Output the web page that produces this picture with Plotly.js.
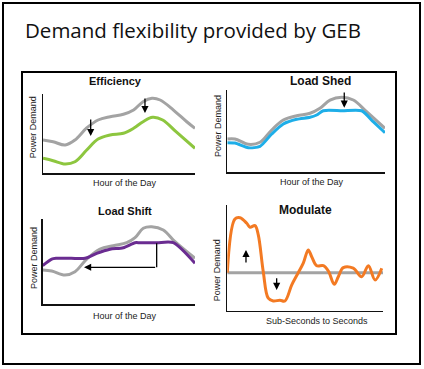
<!DOCTYPE html>
<html>
<head>
<meta charset="utf-8">
<script src="https://cdn.plot.ly/plotly-3.0.1.min.js"></script>
<style>html,body{margin:0;padding:0;background:#fff;}#chart{width:424px;height:369px;}</style>
</head>
<body>
<div id="chart"></div>
<script>
// ---- Data ----
const titleText = "Demand flexibility provided by GEB";
const panelTitles = ["Efficiency", "Load Shed", "Load Shift", "Modulate"];
const xLabels = ["Hour of the Day", "Hour of the Day", "Hour of the Day", "Sub-Seconds to Seconds"];
const yLabel = "Power Demand";

// Efficiency
const effHours = [0, 1.6, 3.5, 5.05, 6.9, 8.7, 10.6, 12.7, 14.3, 15.8, 17.2, 18.5, 20.6, 22.7, 24];
const effBaseline = [4.18, 3.96, 3.54, 4.18, 5.70, 6.71, 7.13, 7.43, 7.97, 9.03, 9.46, 9.24, 7.97, 6.49, 5.66];
const effHours2 = [0, 1.6, 3.5, 5.05, 6.9, 8.7, 10.6, 12.7, 14.3, 15.8, 17.3, 18.9, 21.0, 24];
const effReduced = [1.86, 1.56, 1.14, 1.43, 2.91, 4.30, 4.81, 5.03, 5.66, 6.49, 7.05, 6.71, 5.23, 3.13];
const effArrowX = [7.53, 16.1];
const effArrowTail = [6.96, 9.62];
const effArrowHead = [4.68, 7.59];

// Load Shed
const shedHours = [0, 1.17, 3.2, 4.98, 6.76, 8.52, 10.56, 12.59, 14.1, 15.63, 17.41, 19.18, 21.2, 24];
const shedBaseline = [4.05, 4.05, 3.40, 3.65, 5.14, 6.35, 6.88, 7.17, 7.78, 8.78, 9.11, 8.78, 7.36, 5.35];
const shedHours2 = [0, 1.17, 3.2, 4.98, 6.76, 8.52, 10.56, 12.59, 13.6, 14.6, 17.5, 20.45, 22.2, 24];
const shedReduced = [3.60, 3.55, 2.99, 3.16, 4.65, 5.87, 6.44, 6.68, 6.96, 7.48, 7.48, 7.48, 6.15, 4.81];
const shedArrowX = [17.8];
const shedArrowTail = [9.88];
const shedArrowHead = [7.85];

// Load Shift
const shiftHours = [0, 1.42, 3.51, 5.09, 6.93, 9.03, 11.13, 13.24, 14.55, 15.85, 17.18, 19.0, 20.85, 24];
const shiftBaseline = [4.0, 3.88, 3.41, 3.80, 5.29, 6.47, 6.86, 7.21, 7.80, 8.91, 9.09, 8.71, 7.33, 5.38];
const shiftHours2 = [0, 1.42, 2.1, 4.5, 6.67, 8.51, 10.6, 12.7, 14.55, 15.3, 18.0, 20.58, 24];
const shiftShifted = [4.51, 5.29, 5.38, 5.38, 5.38, 5.96, 6.44, 6.62, 7.21, 7.21, 7.21, 7.21, 4.79];
const shiftArrowX = [17.96, 17.96];
const shiftArrowY = [7.14, 4.32];
const shiftArrowHeadX = [6.51];

// Modulate
const modTime = [0, 0.49, 0.82, 1.25, 1.46, 1.78, 1.99, 2.31, 2.63, 2.95, 3.38, 3.70, 4.14, 4.56, 4.88, 5.20, 5.42, 5.74, 6.17, 6.49, 6.87, 7.13, 7.45, 8.09, 8.63, 9.06, 9.49, 9.92];
const modDemand = [0, 5.08, 5.20, 4.67, 4.30, 4.45, 3.57, 0.09, -2.42, -2.68, -2.61, -2.68, -1.16, 0, 0.89, 2.15, 1.51, 0.66, 0.66, 0.16, -1.10, -0.38, 0.47, 0.42, -0.38, 0.66, -0.69, 0.42];
const modBaseTime = [0, 10];
const modBaseline = [0, 0];
const modArrowX = [1.2, 3.17];
const modArrowTail = [0.82, -0.38];
const modArrowHead = [2.15, -1.64];

// ---- Styles ----
const GRAY = "#a3a3a3", GREEN = "#8dc63f", BLUE = "#1eaee8", PURPLE = "#6a2c91", ORANGE = "#f37a23";
const W = 424, H = 369;
const px = v => v / W;
const py = v => 1 - v / H;

function line(x, y, color, xa, ya, width, shape, smoothing) {
  return {x: x, y: y, xaxis: xa, yaxis: ya, type: "scatter", mode: "lines",
    line: {color: color, width: width || 3, shape: shape || "spline", smoothing: smoothing || 1},
    hoverinfo: "skip", showlegend: false};
}

const traces = [
  line(effHours, effBaseline, GRAY, "x", "y"),
  line(effHours2, effReduced, GREEN, "x", "y"),
  line(shedHours, shedBaseline, GRAY, "x2", "y2"),
  line(shedHours2, shedReduced, BLUE, "x2", "y2", 3, "spline", 0.7),
  line(shiftHours, shiftBaseline, GRAY, "x3", "y3"),
  line(shiftHours2, shiftShifted, PURPLE, "x3", "y3", 3, "spline", 0.7),
  line(shiftArrowX, shiftArrowY, "#000", "x3", "y3", 1.3, "linear"),
  line(modBaseTime, modBaseline, GRAY, "x4", "y4", 3, "linear"),
  line(modTime, modDemand, ORANGE, "x4", "y4")
];

function axis(domain, range) {
  return {domain: domain, range: range, showline: true, linecolor: "#111", linewidth: 1.5,
    showgrid: false, zeroline: false, showticklabels: false, ticks: "", fixedrange: true};
}

const layout = {
  width: W, height: H,
  margin: {l: 0, r: 0, t: 0, b: 0},
  paper_bgcolor: "#fff", plot_bgcolor: "rgba(0,0,0,0)",
  showlegend: false,
  xaxis: Object.assign(axis([px(43), px(195)], [0, 24]), {anchor: "y"}),
  yaxis: Object.assign(axis([py(173), py(94)], [0, 10]), {anchor: "x"}),
  xaxis2: Object.assign(axis([px(227.3), px(385)], [0, 24]), {anchor: "y2"}),
  yaxis2: Object.assign(axis([py(172.3), py(90)], [0, 10]), {anchor: "x2"}),
  xaxis3: Object.assign(axis([px(42.7), px(195)], [0, 24]), {anchor: "y3"}),
  yaxis3: Object.assign(axis([py(304), py(219)], [0, 10]), {anchor: "x3"}),
  xaxis4: Object.assign(axis([px(227.3), px(383)], [0, 10]), {anchor: "y4"}),
  yaxis4: Object.assign(axis([py(310.7), py(205)], [-3.6, 6.4]), {anchor: "x4"}),
  shapes: [
    {type: "rect", xref: "paper", yref: "paper", x0: px(3), x1: px(420), y0: py(364), y1: py(3), line: {color: "#000", width: 2}},
    {type: "rect", xref: "paper", yref: "paper", x0: px(22), x1: px(396), y0: py(334), y1: py(72), line: {color: "#000", width: 2}}
  ],
  annotations: []
};

const ann = layout.annotations;
ann.push({xref: "paper", yref: "paper", x: px(23), y: py(30.5), xanchor: "left", yanchor: "middle",
  text: titleText, showarrow: false, font: {family: "'Open Sans', sans-serif", size: 20.5, color: "#111"}});

const titlePos = [[115, 81], [320, 80.7], [125, 211], [305.7, 210]];
const titleSize = [11, 12, 11, 12];
const xLabPos = [[125, 183], [311.7, 182.3], [125, 315.7], [317.3, 321]];
const yLabPos = [[33.3, 127], [217.3, 125.7], [33.3, 257.7], [217.3, 270]];
for (let i = 0; i < 4; i++) {
  ann.push({xref: "paper", yref: "paper", x: px(titlePos[i][0]), y: py(titlePos[i][1]), xanchor: "center", yanchor: "middle",
    text: "<b>" + panelTitles[i] + "</b>", showarrow: false, font: {family: "'Liberation Sans', Arial, sans-serif", size: titleSize[i], color: "#111"}});
  ann.push({xref: "paper", yref: "paper", x: px(xLabPos[i][0]), y: py(xLabPos[i][1]), xanchor: "center", yanchor: "middle",
    text: xLabels[i], showarrow: false, font: {family: "'Liberation Sans', Arial, sans-serif", size: 9, color: "#222"}});
  ann.push({xref: "paper", yref: "paper", x: px(yLabPos[i][0]), y: py(yLabPos[i][1]), xanchor: "center", yanchor: "middle",
    text: yLabel, textangle: -90, showarrow: false, font: {family: "'Liberation Sans', Arial, sans-serif", size: 9, color: "#222"}});
}

function arrow(xr, yr, x, yTail, yHead) {
  return {xref: xr, yref: yr, axref: xr, ayref: yr, x: x, y: yHead, ax: x, ay: yTail, text: "",
    showarrow: true, arrowhead: 2, arrowsize: 1.1, arrowwidth: 1.3, arrowcolor: "#000"};
}
for (let i = 0; i < effArrowX.length; i++) ann.push(arrow("x", "y", effArrowX[i], effArrowTail[i], effArrowHead[i]));
for (let i = 0; i < shedArrowX.length; i++) ann.push(arrow("x2", "y2", shedArrowX[i], shedArrowTail[i], shedArrowHead[i]));
for (let i = 0; i < modArrowX.length; i++) ann.push(arrow("x4", "y4", modArrowX[i], modArrowTail[i], modArrowHead[i]));
ann.push({xref: "x3", yref: "y3", axref: "x3", ayref: "y3", x: shiftArrowHeadX[0], y: shiftArrowY[1], ax: shiftArrowX[1], ay: shiftArrowY[1],
  text: "", showarrow: true, arrowhead: 2, arrowsize: 1.1, arrowwidth: 1.3, arrowcolor: "#000"});

Plotly.newPlot("chart", traces, layout, {displayModeBar: false, staticPlot: true});
</script>
</body>
</html>
